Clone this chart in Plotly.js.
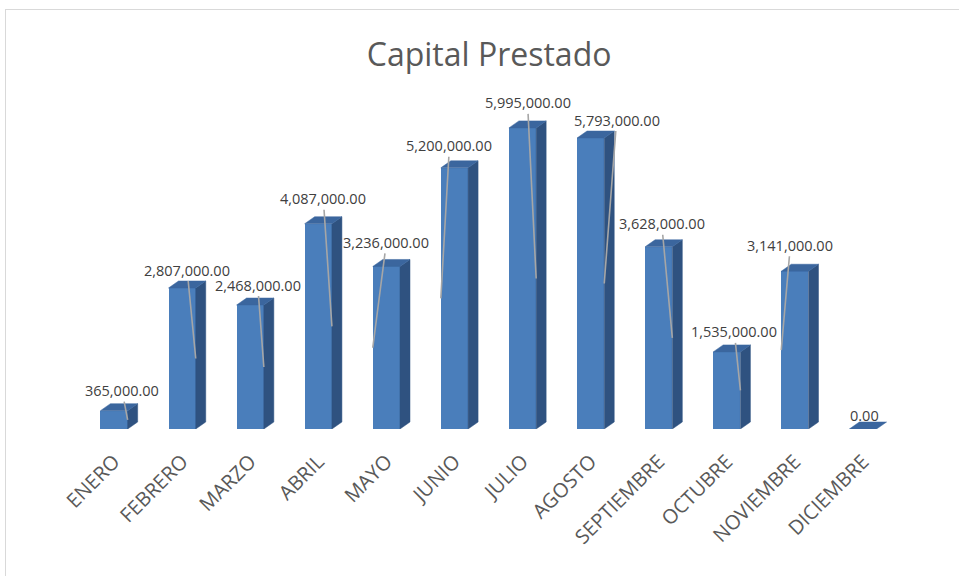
<!DOCTYPE html>
<html>
<head>
<meta charset="utf-8">
<script src="https://cdn.plot.ly/plotly-3.0.1.min.js"></script>
<style>
  html, body { margin: 0; padding: 0; background: #ffffff; }
  #wrap { position: relative; width: 959px; height: 576px; overflow: hidden; }
  #frame { position: absolute; left: 5px; top: 9px; width: 1000px; height: 1000px;
           border: 1.5px solid #d9d9d9; pointer-events: none; }
  #chart { position: absolute; left: 0; top: 0; width: 959px; height: 576px; }
</style>
</head>
<body>
<div id="wrap">
  <div id="chart"></div>
  <div id="frame"></div>
</div>
<script>
// ---- data ----
const months = ["ENERO", "FEBRERO", "MARZO", "ABRIL", "MAYO", "JUNIO",
                "JULIO", "AGOSTO", "SEPTIEMBRE", "OCTUBRE", "NOVIEMBRE", "DICIEMBRE"];
const capital = [365000, 2807000, 2468000, 4087000, 3236000, 5200000,
                 5995000, 5793000, 3628000, 1535000, 3141000, 0];

// ---- label placement (style only: px offsets of each data label) ----
const labelDx  = [8, 5, 7.5, 5, 0, -5, 5, 26, 3, 7.5, -4.5, 2];     // horizontal shift of label centre
const labelGap = [20, 18, 20, 25, 24, 22, 25, 18, 23, 20, 26, 14];  // label centre above bar top
const leaderSide = [1, 1, 1, 1, -1, -1, 1, 1, 1, 1, -1, 0];         // which edge the leader line hits

// ---- geometry / style ----
const W = 959, H = 576;
const M = {l: 80, r: 62, t: 100, b: 147};
const yMax = 6.55e6;
const halfW = 0.2;                      // half bar width (x units)
const plotW = W - M.l - M.r, plotH = H - M.t - M.b;
const pxPerX = plotW / 12, pxPerY = plotH / yMax;
const depthX = 10 / pxPerX, depthY = 7 / pxPerY;   // 3D depth
const cFront = "#4a7ebb", cSide = "#2f5280", cTop = "#3b669e";

const xs = months.map((m, i) => i);

function fmt(v) {
  return v.toLocaleString("en-US", {minimumFractionDigits: 2, maximumFractionDigits: 2});
}

// side & top faces built from the data
const sideX = [], sideY = [], topX = [], topY = [];
xs.forEach((x, i) => {
  const v = capital[i];
  const r = x + halfW, l = x - halfW;
  if (v > 0) {
    sideX.push(r, r + depthX, r + depthX, r, r, null);
    sideY.push(0, depthY, v + depthY, v, 0, null);
  }
  topX.push(l, l + depthX, r + depthX, r, l, null);
  topY.push(v, v + depthY, v + depthY, v, v, null);
});

const traces = [
  {type: "bar", x: xs, y: capital, width: 2 * halfW,
   marker: {color: cFront, line: {width: 0}}, hoverinfo: "skip"},
  {type: "scatter", mode: "lines", x: sideX, y: sideY, fill: "toself",
   fillcolor: cSide, line: {width: 0.5, color: cSide}, hoverinfo: "skip"},
  {type: "scatter", mode: "lines", x: topX, y: topY, fill: "toself",
   fillcolor: cTop, line: {width: 0.5, color: cTop}, hoverinfo: "skip"}
];

const annotations = xs.map((x, i) => {
  const v = capital[i];
  const side = leaderSide[i];
  const px = x + side * halfW;
  const py = v / 2;
  const ax = labelDx[i] - side * halfW * pxPerX;
  const ay = -(v / 2 * pxPerY + labelGap[i]);
  return {
    x: px, y: py, xref: "x", yref: "y",
    ax: ax, ay: ay,
    text: fmt(v),
    showarrow: side !== 0,
    arrowhead: 0, arrowwidth: 1.6, arrowcolor: "#a6a6a6", standoff: 0,
    font: {family: "Open Sans, sans-serif", size: 14.5, color: "#404040"},
    xanchor: "center", yanchor: "middle"
  };
});
// label for zero value (no leader): place with offsets directly
annotations.forEach((a, i) => {
  if (leaderSide[i] === 0) {
    a.x = xs[i]; a.y = capital[i];
    a.xshift = labelDx[i]; a.yshift = labelGap[i];
    a.ax = 0; a.ay = 0;
  }
});

const layout = {
  width: W, height: H,
  margin: M,
  paper_bgcolor: "rgba(0,0,0,0)",
  plot_bgcolor: "rgba(0,0,0,0)",
  showlegend: false,
  title: {text: "Capital Prestado", x: 0.51, xanchor: "center", y: 0.905, yanchor: "middle",
          font: {family: "Open Sans, sans-serif", size: 32, color: "#595959"}},
  xaxis: {range: [-0.5, 11.5], tickmode: "array", tickvals: xs, ticktext: months,
          tickangle: -45, showgrid: false, zeroline: false, showline: false,
          ticks: "outside", ticklen: 12, tickcolor: "rgba(0,0,0,0)",
          tickfont: {family: "Open Sans, sans-serif", size: 20, color: "#595959"},
          fixedrange: true},
  yaxis: {range: [0, yMax], visible: false, showgrid: false, zeroline: false, fixedrange: true},
  annotations: annotations,
  bargap: 0
};

Plotly.newPlot("chart", traces, layout, {displayModeBar: false, staticPlot: true});
</script>
</body>
</html>
